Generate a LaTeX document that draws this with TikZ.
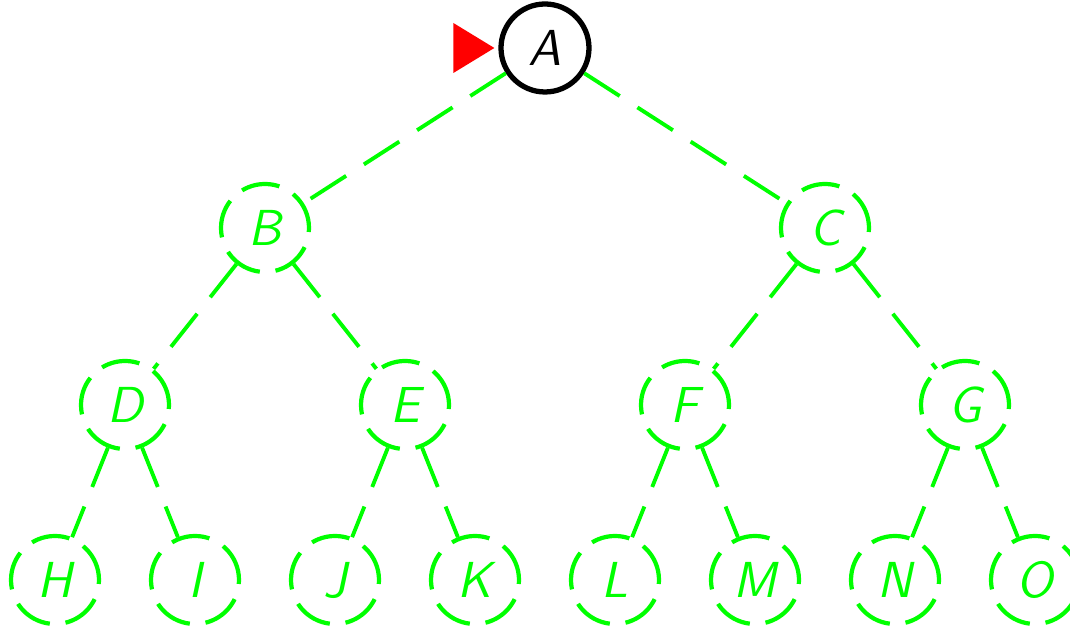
\documentclass[tikz,border=0pt]{standalone}
\usepackage{tikz}
\usetikzlibrary{positioning}

\tikzset{
  cay/.style={circle, draw=green, dash pattern=on 11pt off 4.5pt, line width=1.2pt,
    minimum size=0.88cm, inner sep=0pt, text=green, font=\sffamily\itshape\Large},
  goc/.style={circle, draw=black, solid, line width=1.5pt,
    minimum size=0.88cm, inner sep=0pt, text=black, font=\sffamily\itshape\Large},
  canh/.style={draw=green, dash pattern=on 12pt off 6pt, line width=1.1pt}
}

\begin{document}
\begin{tikzpicture}[scale=1]

            \useasboundingbox (0,0) rectangle (10.7,6.27);

            % Nút gốc
            \node[goc] (A) at (5.45,5.79) {A};

            % Tầng thứ hai
            \node[cay] (B) at (2.65,3.99) {B};
            \node[cay] (C) at (8.25,3.99) {C};

            % Tầng thứ ba
            \node[cay] (D) at (1.25,2.22) {D};
            \node[cay] (E) at (4.05,2.22) {E};
            \node[cay] (F) at (6.85,2.22) {F};
            \node[cay] (G) at (9.65,2.22) {G};

            % Các lá
            \node[cay] (H) at (0.55,0.47) {H};
            \node[cay] (I) at (1.95,0.47) {I};
            \node[cay] (J) at (3.35,0.47) {J};
            \node[cay] (K) at (4.75,0.47) {K};
            \node[cay] (L) at (6.15,0.47) {L};
            \node[cay] (M) at (7.55,0.47) {M};
            \node[cay] (N) at (8.95,0.47) {N};
            \node[cay] (O) at (10.35,0.47) {O};

            % Vẽ các cạnh
            \draw[canh] (A) -- (B);
            \draw[canh] (A) -- (C);
            \draw[canh] (B) -- (D);
            \draw[canh] (B) -- (E);
            \draw[canh] (C) -- (F);
            \draw[canh] (C) -- (G);
            \draw[canh] (D) -- (H);
            \draw[canh] (D) -- (I);
            \draw[canh] (E) -- (J);
            \draw[canh] (E) -- (K);
            \draw[canh] (F) -- (L);
            \draw[canh] (F) -- (M);
            \draw[canh] (G) -- (N);
            \draw[canh] (G) -- (O);

            % Mũi tên chỉ nút đang xét
            \coordinate (dau) at ([xshift=-0.04cm]A.west);
            \fill[red] (dau) -- ++(-0.41,0.25) -- ++(0,-0.5) -- cycle;

            \end{tikzpicture}
\end{document}
